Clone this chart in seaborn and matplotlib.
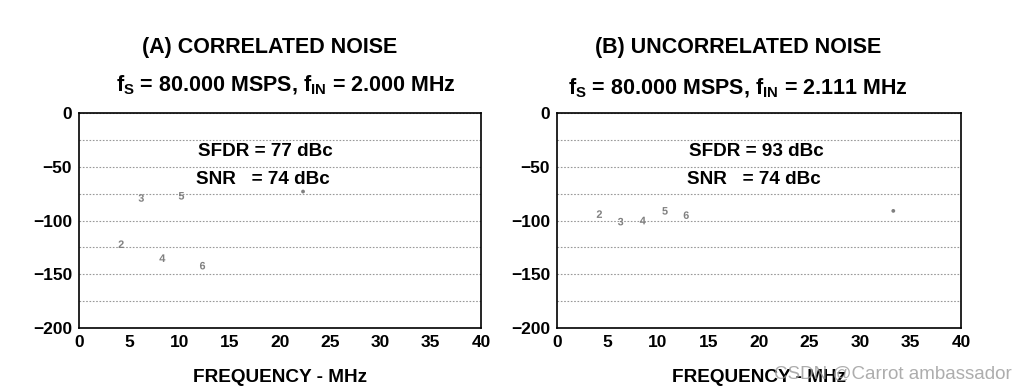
import matplotlib
matplotlib.use('Agg')
import matplotlib.pyplot as plt
import seaborn as sns
import pandas as pd
from matplotlib.ticker import MultipleLocator

# harmonic markers (MHz, dBFS)
labels_a = ['2', '3', '4', '5', '6', '*']
freq_a = [4.2, 6.2, 8.3, 10.2, 12.3, 22.3]
level_a = [-122, -79, -135, -77, -142, -73]

labels_b = ['2', '3', '4', '5', '6', '*']
freq_b = [4.2, 6.3, 8.5, 10.7, 12.8, 33.3]
level_b = [-94, -101, -100, -91, -95, -91]

titles = ['(A) CORRELATED NOISE', '(B) UNCORRELATED NOISE']
subtitles = [r'f$_\mathregular{S}$ = 80.000 MSPS, f$_\mathregular{IN}$ = 2.000 MHz',
             r'f$_\mathregular{S}$ = 80.000 MSPS, f$_\mathregular{IN}$ = 2.111 MHz']
sfdr_text = ['SFDR = 77 dBc', 'SFDR = 93 dBc']
snr_text = ['SNR   = 74 dBc', 'SNR   = 74 dBc']
xticks = [0, 5, 10, 15, 20, 25, 30, 35, 40]
yticks = [0, -50, -100, -150, -200]

sns.set_style('white')
plt.rcParams['font.family'] = ['Liberation Sans', 'DejaVu Sans']
plt.rcParams['text.color'] = 'black'
plt.rcParams['xtick.color'] = 'black'
plt.rcParams['ytick.color'] = 'black'
plt.rcParams['axes.labelcolor'] = 'black'
plt.rcParams['mathtext.fontset'] = 'custom'
plt.rcParams['mathtext.rm'] = 'Liberation Sans:bold'
plt.rcParams['mathtext.it'] = 'Liberation Sans:bold'

fig = plt.figure(figsize=(10.28, 3.9), dpi=100)
ax_a = fig.add_axes([0.0768, 0.159, 0.391, 0.551])
ax_b = fig.add_axes([0.5418, 0.159, 0.393, 0.551])

markers = {'2': '$2$', '3': '$3$', '4': '$4$', '5': '$5$', '6': '$6$', '*': '.'}

panels = [
    (ax_a, pd.DataFrame({'f': freq_a, 'lvl': level_a, 'h': labels_a}), 11.8, 270, 286, 85),
    (ax_b, pd.DataFrame({'f': freq_b, 'lvl': level_b, 'h': labels_b}), 13.1, 738, 738, 88),
]

for i, (ax, df, tx, title_x, sub_x, sub_y) in enumerate(panels):
    sns.scatterplot(data=df, x='f', y='lvl', style='h', markers=markers, color='#808080',
                    s=30, linewidth=0, legend=False, ax=ax, zorder=3)
    ax.set_xlim(0, 40)
    ax.set_ylim(-200, 0)
    ax.set_xticks(xticks)
    ax.set_yticks(yticks)
    ax.yaxis.set_minor_locator(MultipleLocator(25))
    ax.grid(axis='y', which='both', linestyle=(0, (1.5, 1.5)), color='#999999', linewidth=0.8)
    ax.tick_params(which='both', length=0, labelsize=12.5, pad=5)
    for t in ax.get_xticklabels() + ax.get_yticklabels():
        t.set_fontweight('bold')
    for s in ax.spines.values():
        s.set_visible(True)
        s.set_color('black')
        s.set_linewidth(1.2)
    ax.set_xlabel('FREQUENCY - MHz', fontsize=13.7, fontweight='bold', labelpad=14)
    ax.set_ylabel('')
    ax.text(tx, -36, sfdr_text[i], fontsize=13.6, fontweight='bold', va='center', ha='left')
    ax.text(tx - 0.2, -62, snr_text[i], fontsize=13.6, fontweight='bold', va='center', ha='left')
    fig.text(title_x / 1028, 1 - 47 / 390, titles[i], fontsize=15.5, fontweight='bold',
             ha='center', va='center')
    fig.text(sub_x / 1028, 1 - sub_y / 390, subtitles[i], fontsize=15.5, fontweight='bold',
             ha='center', va='center')

fig.text(1012 / 1028, 1 - 374 / 390, 'CSDN @Carrot ambassador', fontsize=13.5,
         color='#999999', alpha=0.8, ha='right', va='center')

fig.savefig('out.png', dpi=100)
